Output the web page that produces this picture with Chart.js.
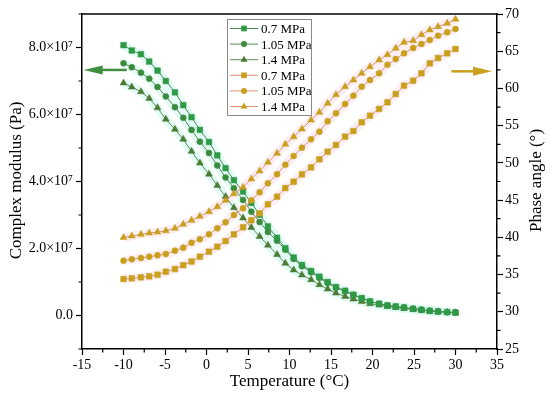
<!DOCTYPE html>
<html>
<head>
<meta charset="utf-8">
<script src="https://cdn.jsdelivr.net/npm/chart.js@4.4.1/dist/chart.umd.min.js"></script>
<style>
  html, body { margin: 0; padding: 0; background: #fff; }
</style>
</head>
<body>
<canvas id="myChart" width="550" height="398"></canvas>
<script>
// temperature (°C)
const temps = [-10.0, -9.0, -7.9, -6.9, -5.9, -4.9, -3.8, -2.8, -1.8, -0.8,
  0.3, 1.3, 2.3, 3.3, 4.4, 5.4, 6.4, 7.4, 8.5, 9.5,
  10.5, 11.5, 12.6, 13.6, 14.6, 15.6, 16.7, 17.7, 18.7, 19.7,
  20.8, 21.8, 22.8, 23.8, 24.9, 25.9, 26.9, 27.9, 29.0, 30.0];

// complex modulus (Pa)
const mod07 = [8.07e7, 7.91e7, 7.80e7, 7.58e7, 7.31e7, 7.00e7, 6.66e7, 6.28e7, 5.92e7, 5.54e7,
  5.18e7, 4.78e7, 4.40e7, 4.04e7, 3.70e7, 3.36e7, 3.01e7, 2.66e7, 2.32e7, 2.01e7,
  1.73e7, 1.51e7, 1.33e7, 1.16e7, 1.00e7, 0.85e7, 0.74e7, 0.62e7, 0.52e7, 0.42e7,
  0.35e7, 0.30e7, 0.27e7, 0.24e7, 0.20e7, 0.17e7, 0.14e7, 0.12e7, 0.10e7, 0.09e7];
const mod105 = [7.53e7, 7.41e7, 7.25e7, 7.07e7, 6.82e7, 6.54e7, 6.22e7, 5.90e7, 5.54e7, 5.19e7,
  4.85e7, 4.48e7, 4.12e7, 3.80e7, 3.45e7, 3.10e7, 2.79e7, 2.49e7, 2.23e7, 1.96e7,
  1.69e7, 1.47e7, 1.29e7, 1.12e7, 0.97e7, 0.83e7, 0.72e7, 0.61e7, 0.51e7, 0.42e7,
  0.35e7, 0.30e7, 0.26e7, 0.23e7, 0.20e7, 0.17e7, 0.14e7, 0.12e7, 0.10e7, 0.09e7];
const mod14 = [6.94e7, 6.82e7, 6.68e7, 6.48e7, 6.20e7, 5.86e7, 5.56e7, 5.26e7, 4.90e7, 4.55e7,
  4.22e7, 3.88e7, 3.55e7, 3.22e7, 2.91e7, 2.63e7, 2.36e7, 2.10e7, 1.82e7, 1.56e7,
  1.36e7, 1.21e7, 1.07e7, 0.92e7, 0.79e7, 0.67e7, 0.57e7, 0.49e7, 0.42e7, 0.35e7,
  0.31e7, 0.27e7, 0.24e7, 0.21e7, 0.18e7, 0.16e7, 0.13e7, 0.11e7, 0.10e7, 0.08e7];

// phase angle (°)
const phase07 = [34.40, 34.49, 34.63, 34.76, 34.98, 35.38, 35.74, 36.26, 36.75, 37.40,
  38.07, 38.74, 39.50, 40.40, 41.35, 42.30, 43.23, 44.44, 45.46, 46.62,
  47.47, 48.46, 49.40, 50.48, 51.50, 52.40, 53.52, 54.28, 55.45, 56.34,
  57.24, 58.14, 59.25, 60.37, 61.04, 62.03, 63.37, 64.09, 64.72, 65.30];
const phase105 = [36.86, 37.04, 37.22, 37.40, 37.58, 37.76, 38.20, 38.61, 39.26, 39.75,
  40.40, 41.21, 42.02, 43.00, 43.90, 44.97, 46.05, 47.26, 48.47, 49.76,
  50.92, 52.04, 53.17, 54.19, 55.58, 56.66, 57.91, 59.03, 60.24, 61.13,
  62.03, 63.19, 63.95, 64.72, 65.43, 65.97, 66.51, 67.09, 67.54, 67.98];
const phase14 = [39.97, 40.18, 40.40, 40.58, 40.71, 40.89, 41.21, 41.75, 42.28, 42.82,
  43.44, 44.11, 44.97, 45.86, 46.72, 47.84, 48.91, 50.08, 51.29, 52.50,
  53.50, 54.55, 55.76, 56.79, 58.00, 59.16, 60.24, 61.13, 62.03, 62.92,
  63.82, 64.53, 65.39, 66.20, 66.41, 67.22, 67.85, 68.29, 68.75, 69.29];

const seriesLabels = ['0.7 MPa', '1.05 MPa', '1.4 MPa', '0.7 MPa', '1.05 MPa', '1.4 MPa'];

const FONT = 'Liberation Serif, Times New Roman, serif';

function pts(ys) {
  return temps.map((t, i) => ({ x: t, y: ys[i] }));
}

function series(label, ys, axis, marker, line, style, radius, halo) {
  return {
    label: label,
    data: pts(ys),
    yAxisID: axis,
    borderColor: line,
    borderWidth: 1,
    backgroundColor: marker,
    pointBackgroundColor: marker,
    pointBorderColor: marker,
    pointBorderWidth: 0.5,
    pointStyle: style,
    pointRadius: radius,
    tension: 0,
    halo: halo,
    order: axis === 'y' ? 1 : 0,
  };
}

const datasets = [
  series(seriesLabels[0], mod07, 'y', '#2f9a46', '#4f8a58', 'rect', 4.0, '#e2fcf5'),
  series(seriesLabels[1], mod105, 'y', '#3b8b3d', '#558a55', 'circle', 3.0, '#e2fcf5'),
  series(seriesLabels[2], mod14, 'y', '#4c7b35', '#648a55', 'triangle', 4.0, '#e2fcf5'),
  series(seriesLabels[3], phase07, 'y1', '#c8a01c', '#e0907a', 'rect', 4.0, '#fdeef4'),
  series(seriesLabels[4], phase105, 'y1', '#c8a01c', '#e0907a', 'circle', 3.0, '#fdeef4'),
  series(seriesLabels[5], phase14, 'y1', '#c8a01c', '#e0907a', 'triangle', 4.0, '#fdeef4'),
];

function isMajor(v, step) {
  const r = Math.abs(v / step - Math.round(v / step));
  return r < 1e-6;
}

// pale band behind each curve
const haloPlugin = {
  id: 'halo',
  beforeDatasetsDraw(chart) {
    const ctx = chart.ctx;
    ctx.save();
    chart.data.datasets.forEach((ds, i) => {
      const meta = chart.getDatasetMeta(i);
      ctx.strokeStyle = ds.halo;
      ctx.lineWidth = 9;
      ctx.lineJoin = 'round';
      ctx.beginPath();
      meta.data.forEach((p, j) => { if (j === 0) ctx.moveTo(p.x, p.y); else ctx.lineTo(p.x, p.y); });
      ctx.stroke();
    });
    ctx.restore();
  },
};

function drawMarker(ctx, style, x, y, r, color) {
  ctx.fillStyle = color;
  ctx.beginPath();
  if (style === 'rect') {
    const s = r * Math.SQRT1_2;
    ctx.rect(x - s, y - s, 2 * s, 2 * s);
  } else if (style === 'circle') {
    ctx.arc(x, y, r, 0, Math.PI * 2);
  } else {
    ctx.moveTo(x, y - r);
    ctx.lineTo(x + r * 0.866, y + r * 0.5);
    ctx.lineTo(x - r * 0.866, y + r * 0.5);
    ctx.closePath();
  }
  ctx.fill();
}

function arrow(ctx, x0, y, x1, color) {
  const dir = x1 > x0 ? 1 : -1;
  ctx.strokeStyle = color;
  ctx.fillStyle = color;
  ctx.lineWidth = 2.5;
  ctx.beginPath();
  ctx.moveTo(x0, y);
  ctx.lineTo(x1 - dir * 16, y);
  ctx.stroke();
  ctx.beginPath();
  ctx.moveTo(x1, y);
  ctx.lineTo(x1 - dir * 19, y - 4.5);
  ctx.lineTo(x1 - dir * 19, y + 4.5);
  ctx.closePath();
  ctx.fill();
}

const decorPlugin = {
  id: 'decor',
  afterDraw(chart) {
    const ctx = chart.ctx;
    const a = chart.chartArea;
    const sx = chart.scales.x, sy = chart.scales.y, sy1 = chart.scales.y1;
    ctx.save();

    // top frame line
    ctx.strokeStyle = '#000';
    ctx.lineWidth = 1.5;
    ctx.beginPath();
    ctx.moveTo(a.left - 0.75, a.top);
    ctx.lineTo(a.right + 0.75, a.top);
    ctx.stroke();

    // minor ticks
    ctx.lineWidth = 1.2;
    ctx.beginPath();
    sx.ticks.forEach(t => {
      if (!isMajor(t.value, 5)) {
        const px = sx.getPixelForValue(t.value);
        ctx.moveTo(px, a.bottom); ctx.lineTo(px, a.bottom + 3.5);
      }
    });
    sy.ticks.forEach(t => {
      if (!isMajor(t.value, 2e7)) {
        const py = sy.getPixelForValue(t.value);
        ctx.moveTo(a.left, py); ctx.lineTo(a.left - 3.5, py);
      }
    });
    sy1.ticks.forEach(t => {
      if (!isMajor(t.value, 5)) {
        const py = sy1.getPixelForValue(t.value);
        ctx.moveTo(a.right, py); ctx.lineTo(a.right + 3.5, py);
      }
    });
    ctx.stroke();

    // axis titles
    ctx.fillStyle = '#000';
    ctx.font = '17px ' + FONT;
    ctx.textAlign = 'center';
    ctx.textBaseline = 'middle';
    ctx.fillText('Temperature (°C)', (a.left + a.right) / 2, 382);
    ctx.save();
    ctx.translate(17, (a.top + a.bottom) / 2 - 1);
    ctx.rotate(-Math.PI / 2);
    ctx.fillText('Complex modulus (Pa)', 0, 0);
    ctx.restore();
    ctx.save();
    ctx.translate(537, (a.top + a.bottom) / 2 - 1);
    ctx.rotate(-Math.PI / 2);
    ctx.fillText('Phase angle (°)', 0, 0);
    ctx.restore();

    // arrows pointing to the axes
    arrow(ctx, sx.getPixelForValue(-9.6), sy.getPixelForValue(7.33e7), sx.getPixelForValue(-14.8), '#3f8f3f');
    arrow(ctx, sx.getPixelForValue(29.5), sy1.getPixelForValue(62.3), sx.getPixelForValue(34.4), '#c8a01c');

    // legend box
    const lx = 227, ly = 19, lw = 84, lh = 96;
    ctx.fillStyle = '#fff';
    ctx.fillRect(lx, ly, lw, lh);
    ctx.strokeStyle = '#8a8a8a';
    ctx.lineWidth = 1;
    ctx.strokeRect(lx + 0.5, ly + 0.5, lw, lh);
    ctx.font = '13px ' + FONT;
    ctx.textAlign = 'left';
    chart.data.datasets.forEach((ds, i) => {
      const ry = ly + 9.5 + i * 15.6;
      ctx.strokeStyle = ds.borderColor;
      ctx.lineWidth = 1;
      ctx.beginPath();
      ctx.moveTo(lx + 3, ry); ctx.lineTo(lx + 31, ry);
      ctx.stroke();
      drawMarker(ctx, ds.pointStyle, lx + 17, ry, ds.pointRadius, ds.pointBackgroundColor);
      ctx.fillStyle = '#000';
      ctx.fillText(ds.label, lx + 34, ry + 1);
    });

    ctx.restore();
  },
};

const tickFont = { family: FONT, size: 14 };

new Chart(document.getElementById('myChart'), {
  type: 'line',
  data: { datasets: datasets },
  options: {
    responsive: false,
    animation: false,
    devicePixelRatio: 1,
    layout: { padding: { top: 14, left: 0, right: 0, bottom: 0 } },
    plugins: { legend: { display: false }, tooltip: { enabled: false } },
    scales: {
      x: {
        type: 'linear',
        min: -15,
        max: 35,
        afterFit: (s) => { s.height = 49; },
        ticks: {
          stepSize: 2.5,
          autoSkip: false,
          maxRotation: 0,
          padding: 2,
          color: '#000',
          font: tickFont,
          callback: (v) => (isMajor(v, 5) ? String(Math.round(v)) : ''),
        },
        grid: {
          drawOnChartArea: false,
          tickLength: 6,
          tickWidth: 1.2,
          tickColor: (c) => (c.tick && isMajor(c.tick.value, 5) ? '#000' : 'rgba(0,0,0,0)'),
        },
        border: { display: true, color: '#000', width: 1.5 },
      },
      y: {
        type: 'linear',
        position: 'left',
        min: -1e7,
        max: 9e7,
        afterFit: (s) => { s.width = 82; },
        ticks: {
          stepSize: 1e7,
          autoSkip: false,
          padding: 3,
          color: '#000',
          font: tickFont,
          callback: (v) => {
            if (!isMajor(v, 2e7)) return '';
            if (Math.abs(v) < 1) return '0.0';
            return (v / 1e7).toFixed(1) + '×10⁷';
          },
        },
        grid: {
          drawOnChartArea: false,
          tickLength: 6,
          tickWidth: 1.2,
          tickColor: (c) => (c.tick && isMajor(c.tick.value, 2e7) ? '#000' : 'rgba(0,0,0,0)'),
        },
        border: { display: true, color: '#000', width: 1.5 },
      },
      y1: {
        type: 'linear',
        position: 'right',
        min: 25,
        max: 70,
        afterFit: (s) => { s.width = 53; },
        ticks: {
          stepSize: 2.5,
          autoSkip: false,
          padding: 2,
          color: '#000',
          font: tickFont,
          callback: (v) => (isMajor(v, 5) ? String(Math.round(v)) : ''),
        },
        grid: {
          drawOnChartArea: false,
          tickLength: 6,
          tickWidth: 1.2,
          tickColor: (c) => (c.tick && isMajor(c.tick.value, 5) ? '#000' : 'rgba(0,0,0,0)'),
        },
        border: { display: true, color: '#000', width: 1.5 },
      },
    },
  },
  plugins: [haloPlugin, decorPlugin],
});
</script>
</body>
</html>
